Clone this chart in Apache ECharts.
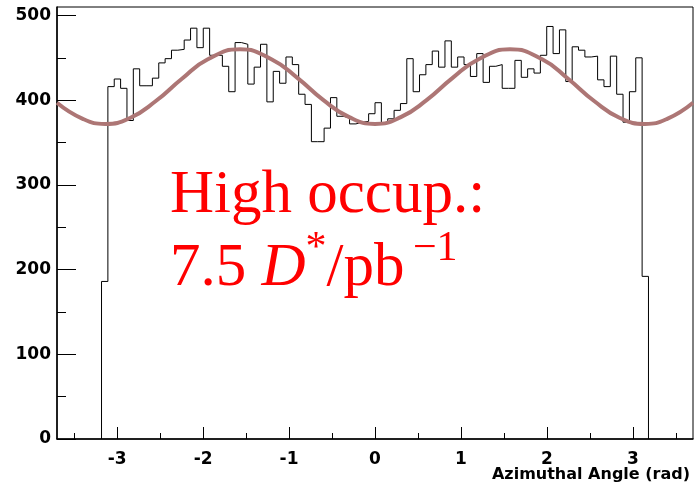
<!DOCTYPE html>
<html><head><meta charset="utf-8">
<script src="https://cdn.jsdelivr.net/npm/echarts@6/dist/echarts.min.js"></script>
<style>html,body{margin:0;padding:0;background:#fff}#c{width:694px;height:487px}</style>
</head><body><div id="c"></div>
<script>
// Histogram definition: 100 bins from -3.7 to 3.7; bins 7..92 are filled
const histXMin = -3.7, histXMax = 3.7, nBins = 100, firstFilledBin = 7;
const binCounts = [
  186,416,425,414,376,437,417,417,426,444,449,459,460,471,485,462,485,453,453,440,
  410,468,466,419,439,466,398,434,420,451,442,407,395,351,351,367,403,381,379,372,
  374,375,384,397,373,378,388,396,449,410,430,442,458,439,470,439,451,442,428,455,
  421,440,442,414,414,447,427,437,432,453,487,455,483,422,463,459,451,452,424,416,
  452,407,374,410,450,192
];
// Fit curve
const fitX = [-3.70,-3.40,-3.14,-2.85,-2.55,-2.25,-1.95,-1.57,-1.20,-0.90,-0.60,-0.30,0,
               0.30,0.60,0.90,1.20,1.57,1.95,2.25,2.55,2.85,3.14,3.40,3.70];
const fitY = [397,378,372,379,399,425,448,460,448,426,400,380,372,
              380,400,426,448,460,448,425,399,379,372,378,397];
const xTickLabels = [-3,-2,-1,0,1,2,3];
const xMinorTicks = [-3.5,-2.5,-1.5,-0.5,0.5,1.5,2.5,3.5];
const yTickLabels = [0,100,200,300,400,500];
const yMinorTicks = [50,150,250,350,450];
const yMax = 510;

const binW = (histXMax - histXMin) / nBins;
const histData = [];
const x0 = histXMin + firstFilledBin * binW;
histData.push([x0, 0]);
binCounts.forEach((v, i) => histData.push([histXMin + (firstFilledBin + i) * binW, v]));
histData.push([histXMin + (firstFilledBin + binCounts.length) * binW, 0]);
const fitData = fitX.map((x, i) => [x, fitY[i]]);

const lblFont = {fontFamily: 'DejaVu Sans', fontWeight: 'bold', fontSize: 17, color: '#000'};
const chart = echarts.init(document.getElementById('c'), null, {renderer: 'canvas'});
chart.setOption({
  animation: false,
  grid: {left: 57, right: 1, top: 7, bottom: 48, show: true, borderColor: '#000', borderWidth: 1, backgroundColor: 'transparent'},
  xAxis: [
    {type: 'value', min: histXMin, max: histXMax, position: 'bottom',
     axisLine: {onZero: false, lineStyle: {color: '#000', width: 1.5}},
     axisTick: {inside: true, length: 12, customValues: xTickLabels, lineStyle: {color: '#000'}},
     axisLabel: Object.assign({customValues: xTickLabels, margin: 12}, lblFont),
     splitLine: {show: false}},
    {type: 'value', min: histXMin, max: histXMax, position: 'bottom',
     axisLine: {show: false, onZero: false},
     axisTick: {inside: true, length: 6, customValues: xMinorTicks, lineStyle: {color: '#000'}},
     axisLabel: {show: false}, splitLine: {show: false}}
  ],
  yAxis: [
    {type: 'value', min: 0, max: yMax, position: 'left',
     axisLine: {show: true, onZero: false, lineStyle: {color: '#000', width: 1.5}},
     axisTick: {show: true, inside: true, length: 19, customValues: yTickLabels, lineStyle: {color: '#000'}},
     axisLabel: Object.assign({customValues: yTickLabels, margin: 6}, lblFont),
     splitLine: {show: false}},
    {type: 'value', min: 0, max: yMax, position: 'left',
     axisLine: {show: false, onZero: false},
     axisTick: {show: true, inside: true, length: 9, customValues: yMinorTicks, lineStyle: {color: '#000'}},
     axisLabel: {show: false}, splitLine: {show: false}}
  ],
  series: [
    {type: 'line', step: 'end', data: histData, symbol: 'none', xAxisIndex: 0, yAxisIndex: 0,
     lineStyle: {color: '#000', width: 1}, z: 2},
    {type: 'line', smooth: true, data: fitData, symbol: 'none', xAxisIndex: 0, yAxisIndex: 0,
     lineStyle: {color: '#ad7675', width: 4}, z: 3}
  ],
  graphic: [
    {type: 'text', left: 170, top: 165,
     style: {text: 'High occup.:', font: '61px "Liberation Serif"', fill: '#ff0000'}},
    {type: 'text', left: 170, top: 228,
     style: {text: '{n|7.5 }{i|D}{s|*}{n|/pb}{s|\u2009\u22121}',
       rich: {
         n: {fontSize: 61, fontFamily: 'Liberation Serif', fill: '#ff0000', lineHeight: 82},
         i: {fontSize: 61, fontFamily: 'Liberation Serif', fontStyle: 'italic', fill: '#ff0000', lineHeight: 82},
         s: {fontSize: 42, fontFamily: 'Liberation Serif', fill: '#ff0000', lineHeight: 42, verticalAlign: 'top'}
       }}},
    {type: 'text', right: 4, top: 467,
     style: {text: 'Azimuthal Angle (rad)', font: 'bold 16px "DejaVu Sans"', fill: '#000'}}
  ]
});
</script></body></html>
